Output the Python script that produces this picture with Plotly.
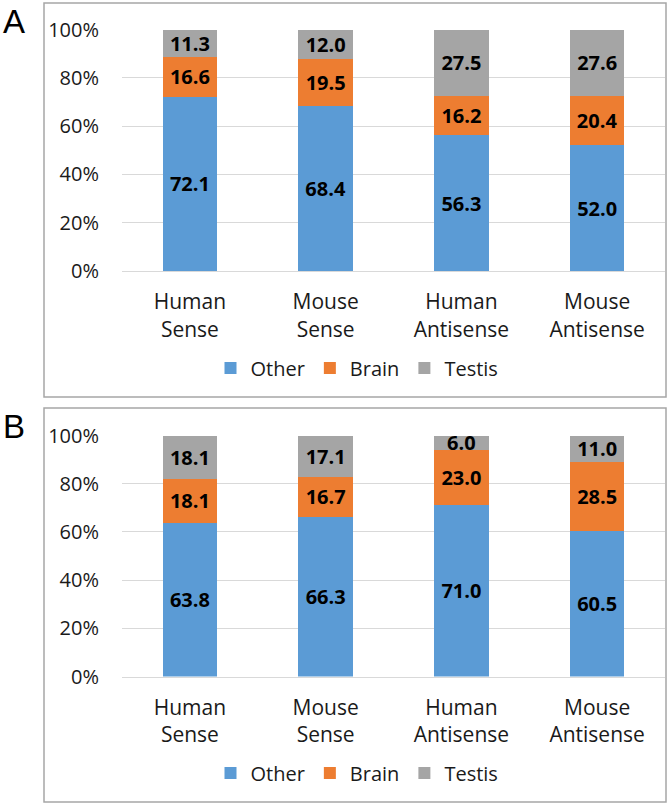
import plotly.graph_objects as go

categories = ["Human<br>Sense", "Mouse<br>Sense", "Human<br>Antisense", "Mouse<br>Antisense"]
series_names = ["Other", "Brain", "Testis"]

# Panel A values (%)
a_other = [72.1, 68.4, 56.3, 52.0]
a_brain = [16.6, 19.5, 16.2, 20.4]
a_testis = [11.3, 12.0, 27.5, 27.6]

# Panel B values (%)
b_other = [63.8, 66.3, 71.0, 60.5]
b_brain = [18.1, 16.7, 23.0, 28.5]
b_testis = [18.1, 17.1, 6.0, 11.0]

y_ticks = [0, 20, 40, 60, 80, 100]
y_tick_labels = ["0%", "20%", "40%", "60%", "80%", "100%"]
colors = {"Other": "#5b9bd5", "Brain": "#ed7d31", "Testis": "#a5a5a5"}

W, H = 669, 805
FONT = "Open Sans"

fig = go.Figure()

panels = [
    ("x", "y", "legend", [a_other, a_brain, a_testis]),
    ("x2", "y2", "legend2", [b_other, b_brain, b_testis]),
]
for xa, ya, lg, vals in panels:
    for name, v in zip(series_names, vals):
        fig.add_trace(go.Bar(
            x=categories, y=v, name=name, xaxis=xa, yaxis=ya, legend=lg,
            marker=dict(color=colors[name], line=dict(width=0)),
            text=v, texttemplate="%{text:.1f}", textposition="inside",
            insidetextanchor="middle",
            textfont=dict(family=FONT, size=20, color="black", weight="bold"),
            hoverinfo="skip",
        ))

def px_x(p):
    return p / W

def px_y(p):
    return 1 - p / H

x_dom = [px_x(122), px_x(665)]
xa_common = dict(showgrid=False, showline=True, linecolor="#d9d9d9", linewidth=1,
                 ticks="", ticklabelstandoff=12, automargin=False,
                 tickfont=dict(family=FONT, size=21, color="#1a1a1a"))
ya_common = dict(range=[0, 100], tickvals=y_ticks, ticktext=y_tick_labels,
                 showgrid=True, gridcolor="#d9d9d9", zeroline=False, showline=False,
                 ticks="", ticklabelstandoff=22, automargin=False,
                 tickfont=dict(family=FONT, size=20, color="#1a1a1a"))
leg_common = dict(orientation="h", xanchor="center", yanchor="middle",
                  traceorder="normal", font=dict(family=FONT, size=20, color="#1a1a1a"),
                  bgcolor="rgba(0,0,0,0)", itemwidth=30)

fig.update_layout(
    width=W, height=H,
    margin=dict(l=0, r=0, t=0, b=0, pad=0, autoexpand=False),
    paper_bgcolor="white", plot_bgcolor="white",
    barmode="stack", barnorm="percent", bargap=0.6,
    uniformtext=dict(mode="show", minsize=20),
    xaxis=dict(domain=x_dom, anchor="y", **xa_common),
    yaxis=dict(domain=[px_y(271), px_y(29.5)], anchor="x", **ya_common),
    xaxis2=dict(domain=x_dom, anchor="y2", **xa_common),
    yaxis2=dict(domain=[px_y(676.5), px_y(435.5)], anchor="x2", **ya_common),
    legend=dict(x=px_x(357), y=px_y(368), **leg_common),
    legend2=dict(x=px_x(357), y=px_y(773), **leg_common),
    showlegend=True,
)

# panel borders
for top, bot in [(3, 397), (408, 802)]:
    fig.add_shape(type="rect", xref="paper", yref="paper",
                  x0=px_x(44), x1=px_x(666), y0=px_y(bot), y1=px_y(top),
                  line=dict(color="#a6a6a6", width=1.5), fillcolor="rgba(0,0,0,0)",
                  layer="below")

# panel letters
for letter, cy in [("A", 22), ("B", 426)]:
    fig.add_annotation(text=letter, xref="paper", yref="paper",
                       x=px_x(14), y=px_y(cy), xanchor="center", yanchor="middle",
                       showarrow=False,
                       font=dict(family="Liberation Sans", size=33, color="black"))

fig.write_html("out.html", config={"displayModeBar": False},
               post_script="document.body.style.margin='0';")
